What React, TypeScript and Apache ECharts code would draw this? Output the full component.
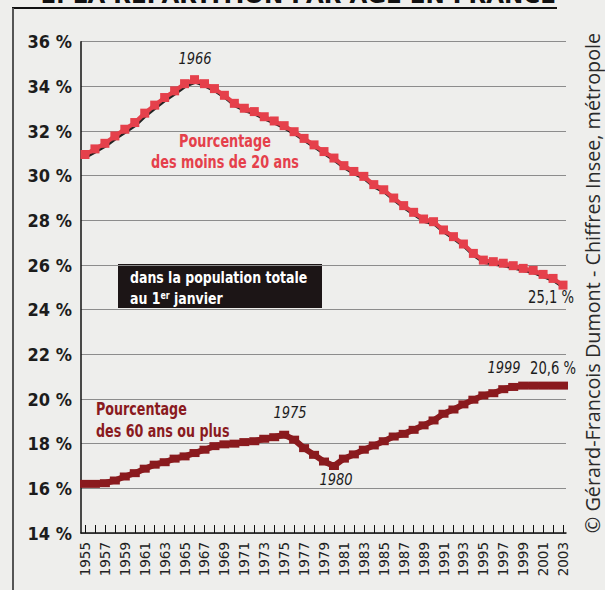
import React, { useEffect, useRef } from "react";
import * as echarts from "echarts";

const years = [
  1955, 1956, 1957, 1958, 1959, 1960, 1961, 1962, 1963, 1964,
  1965, 1966, 1967, 1968, 1969, 1970, 1971, 1972, 1973, 1974,
  1975, 1976, 1977, 1978, 1979, 1980, 1981, 1982, 1983, 1984,
  1985, 1986, 1987, 1988, 1989, 1990, 1991, 1992, 1993, 1994,
  1995, 1996, 1997, 1998, 1999, 2000, 2001, 2002, 2003,
];

const labelYears = [
  1955, 1957, 1959, 1961, 1963, 1965, 1967, 1969, 1971, 1973, 1975, 1977,
  1979, 1981, 1983, 1985, 1987, 1989, 1991, 1993, 1995, 1997, 1999, 2001, 2003,
];

const under20 = [
  30.95, 31.2, 31.45, 31.78, 32.08, 32.38, 32.8, 33.16, 33.5, 33.8,
  34.12, 34.3, 34.12, 33.9, 33.6, 33.24, 33.02, 32.87, 32.64, 32.45,
  32.24, 31.97, 31.67, 31.38, 31.08, 30.79, 30.45, 30.19, 29.97, 29.6,
  29.37, 29.0, 28.66, 28.36, 28.06, 27.94, 27.57, 27.27, 26.94, 26.52,
  26.22, 26.15, 26.08, 25.97, 25.85, 25.76, 25.58, 25.4, 25.1,
];

const over60 = [
  16.2, 16.2, 16.23, 16.35, 16.53, 16.68, 16.88, 17.06, 17.17, 17.33,
  17.43, 17.58, 17.73, 17.89, 17.97, 18.0, 18.07, 18.11, 18.22, 18.29,
  18.4, 18.18, 17.8, 17.5, 17.2, 17.0, 17.33, 17.52, 17.73, 17.92,
  18.11, 18.32, 18.44, 18.62, 18.82, 19.04, 19.34, 19.53, 19.76, 19.97,
  20.16, 20.26, 20.44, 20.54, 20.6, 20.6, 20.6, 20.6, 20.6,
];

const yMin = 14;
const yMax = 36;
const yStep = 2;

const NARROW = "'Liberation Sans Narrow', 'DejaVu Sans Condensed', 'Roboto', sans-serif";
const RED = "#e5404b";
const DARK = "#8a1a1e";

export default function App() {
  const ref = useRef<HTMLDivElement>(null);

  useEffect(() => {
    if (!ref.current) return;
    const chart = echarts.init(ref.current, null, { renderer: "svg" });

    const redData = years.map((y, i) => [y, under20[i]]);
    const darkData = years.map((y, i) => [y, over60[i]]);

    chart.setOption({
      animation: false,
      backgroundColor: "#eeeeec",
      grid: { left: 81, right: 39, top: 41.7, bottom: 57, containLabel: false },
      xAxis: {
        type: "value",
        min: 1954.6,
        max: 2003.3,
        splitLine: { show: false },
        axisLine: { show: true, lineStyle: { color: "#111", width: 1.5 } },
        axisTick: {
          show: true,
          inside: true,
          length: 8,
          customValues: years,
          lineStyle: { color: "#111", width: 1 },
        },
        axisLabel: {
          customValues: labelYears,
          rotate: 90,
          margin: 9,
          color: "#222",
          fontSize: 13.5,
          fontFamily: "'DejaVu Sans', sans-serif",
          formatter: (v: number) => String(v),
        },
      },
      yAxis: {
        type: "value",
        min: yMin,
        max: yMax,
        interval: yStep,
        axisLine: { show: true, lineStyle: { color: "#111", width: 1.5 } },
        axisTick: { show: false },
        splitLine: { show: true, lineStyle: { color: "#8c8c8c", width: 1 } },
        axisLabel: {
          margin: 9,
          color: "#1c1c1c",
          fontSize: 18,
          fontWeight: "bold",
          fontFamily: NARROW,
          formatter: (v: number) => `${v} %`,
        },
      },
      series: [
        {
          type: "line",
          data: redData,
          symbol: "rect",
          symbolSize: 9,
          itemStyle: { color: RED },
          lineStyle: {
            color: RED,
            width: 4,
            shadowColor: "rgba(0,0,0,0.85)",
            shadowOffsetX: 1,
            shadowOffsetY: 2,
            shadowBlur: 0,
          },
          z: 3,
        },
        {
          type: "line",
          data: darkData,
          symbol: "rect",
          symbolSize: [10, 8],
          itemStyle: { color: DARK },
          lineStyle: { color: DARK, width: 6 },
          z: 3,
        },
      ],
      graphic: [
        // frame
        { type: "line", shape: { x1: 12, y1: 8, x2: 557, y2: 8 }, style: { stroke: "#111", lineWidth: 2 } },
        { type: "line", shape: { x1: 13, y1: 8, x2: 13, y2: 590 }, style: { stroke: "#555", lineWidth: 2 } },
        {
          type: "text",
          x: 40,
          y: 6,
          style: {
            text: "1. LA RÉPARTITION PAR ÂGE EN FRANCE",
            fill: "#111",
            fontSize: 23,
            fontWeight: "bold",
            fontFamily: "'DejaVu Sans', sans-serif",
            align: "left",
            verticalAlign: "bottom",
          },
        },
        // credit
        {
          type: "text",
          x: 592,
          y: 283,
          rotation: Math.PI / 2,
          style: {
            text: "© Gérard-Francois Dumont - Chiffres Insee, métropole",
            fill: "#2a2a2a",
            fontSize: 19.8,
            fontFamily: "'Open Sans', sans-serif",
            align: "center",
            verticalAlign: "middle",
          },
        },
        // red series label
        {
          type: "text",
          x: 225,
          y: 152,
          scaleX: 0.84,
          style: {
            text: "Pourcentage\ndes moins de 20 ans",
            fill: RED,
            fontSize: 17,
            fontWeight: "bold",
            fontFamily: NARROW,
            align: "center",
            verticalAlign: "middle",
            lineHeight: 21,
          },
        },
        // dark series label
        {
          type: "text",
          x: 96,
          y: 421,
          scaleX: 0.83,
          style: {
            text: "Pourcentage\ndes 60 ans ou plus",
            fill: DARK,
            fontSize: 17,
            fontWeight: "bold",
            fontFamily: NARROW,
            align: "left",
            verticalAlign: "middle",
            lineHeight: 22,
          },
        },
        // black box
        { type: "rect", shape: { x: 118, y: 264, width: 204, height: 44 }, style: { fill: "#1c1516" } },
        {
          type: "text",
          x: 130,
          y: 278,
          scaleX: 0.87,
          style: {
            text: "dans la population totale",
            fill: "#ffffff",
            fontSize: 16,
            fontWeight: "bold",
            fontFamily: NARROW,
            align: "left",
            verticalAlign: "middle",
          },
        },
        {
          type: "text",
          x: 130,
          y: 299,
          scaleX: 0.87,
          style: {
            text: "{n|au 1}{s|er}{n| janvier}",
            align: "left",
            verticalAlign: "middle",
            rich: {
              n: { fill: "#ffffff", fontSize: 16, fontWeight: "bold", fontFamily: NARROW, lineHeight: 18 },
              s: { fill: "#ffffff", fontSize: 10, fontWeight: "bold", fontFamily: NARROW, lineHeight: 18, verticalAlign: "top" },
            },
          },
        },
        // year annotations
        ...[
          { t: "1966", x: 195, y: 59 },
          { t: "1975", x: 290, y: 413 },
          { t: "1980", x: 336, y: 480 },
          { t: "1999", x: 504, y: 368 },
        ].map((a) => ({
          type: "text",
          x: a.x,
          y: a.y,
          scaleX: 0.88,
          style: {
            text: a.t,
            fill: "#1c1c1c",
            fontSize: 16.5,
            fontStyle: "italic",
            fontFamily: NARROW,
            align: "center",
            verticalAlign: "middle",
          },
        })),
        {
          type: "text",
          x: 553,
          y: 368,
          scaleX: 0.86,
          style: {
            text: "20,6 %",
            fill: "#1c1c1c",
            fontSize: 17,
            fontFamily: NARROW,
            align: "center",
            verticalAlign: "middle",
          },
        },
        {
          type: "text",
          x: 551,
          y: 297,
          scaleX: 0.86,
          style: {
            text: "25,1 %",
            fill: "#1c1c1c",
            fontSize: 17,
            fontFamily: NARROW,
            align: "center",
            verticalAlign: "middle",
          },
        },
      ],
    });

    return () => chart.dispose();
  }, []);

  return (
    <div
      ref={ref}
      style={{ position: "fixed", left: 0, top: 0, width: 605, height: 590 }}
    />
  );
}
